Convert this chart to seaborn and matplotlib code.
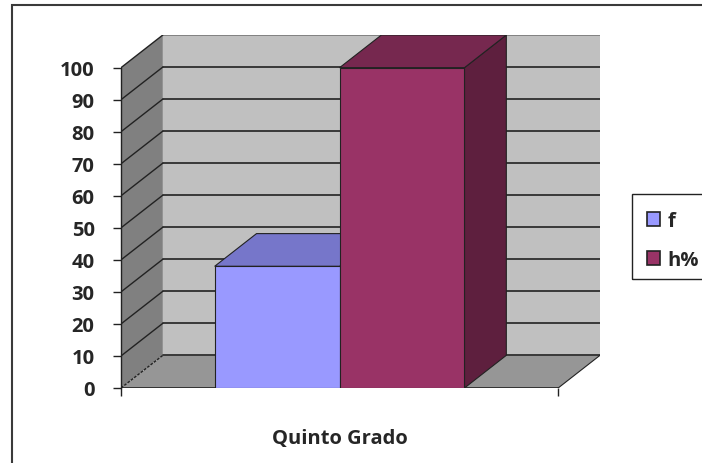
import pandas as pd
import matplotlib.pyplot as plt
import seaborn as sns
from matplotlib.patches import Polygon, Rectangle

# data
categories = ['Quinto Grado']
series = ['f', 'h%']
values = [38, 100]
yticks = list(range(0, 101, 10))

front_colors = ['#9999FF', '#993366']
top_colors = ['#7676CA', '#76284F']
side_colors = ['#7070C0', '#5E1F3E']

df = pd.DataFrame({'grado': categories * len(series), 'serie': series, 'valor': values})

sns.set_theme(style='white')
plt.rcParams['font.family'] = ['Open Sans', 'DejaVu Sans']
plt.rcParams['font.weight'] = 'bold'
fsize = 14.5

W, H = 702, 464
fig = plt.figure(figsize=(W / 100, H / 100), dpi=100)
# axes covers the front axis (x=121px) to the back wall (x=600px)
ax = fig.add_axes([121 / W, 1 - 389 / H, (600 - 121) / W, (389 - 36) / H])

sns.barplot(data=df, x='grado', y='valor', hue='serie', palette=front_colors,
            width=0.8, ax=ax, legend=False, saturation=1,
            edgecolor='#222222', linewidth=0.8, zorder=3)

# 3d depth in data units
x0, x1 = -0.7, 0.7
dx, dy = 0.134, 10.2
ax.set_xlim(x0, x1 + dx)
ax.set_ylim(0, 100 + dy)

grid_c = '#222222'
# walls and floor
ax.add_patch(Polygon([(x0 + dx, dy), (x1 + dx, dy), (x1 + dx, 100 + dy), (x0 + dx, 100 + dy)],
                     closed=True, facecolor='#C0C0C0', edgecolor='none', zorder=0.5))
ax.add_patch(Polygon([(x0, 0), (x0 + dx, dy), (x0 + dx, 100 + dy), (x0, 100)],
                     closed=True, facecolor='#808080', edgecolor='none', zorder=0.6))
ax.add_patch(Polygon([(x0, 0), (x1, 0), (x1 + dx, dy), (x0 + dx, dy)],
                     closed=True, facecolor='#969696', edgecolor='none', zorder=0.6))
for v in yticks:
    c = '#777777' if v == 100 else grid_c
    ax.plot([x0 + dx, x1 + dx], [v + dy, v + dy], color=c, lw=1.2, zorder=0.8)
    ax.plot([x0, x0 + dx], [v, v + dy], color=grid_c, lw=1.0, zorder=0.8,
            ls=(0, (2, 1)) if v == 0 else '-')
ax.plot([x0, x1], [0, 0], color=grid_c, lw=1.2, zorder=0.9)
ax.plot([x1, x1 + dx], [0, dy], color=grid_c, lw=0.8, zorder=0.9)

# top and side faces of the bars
bars = [p for p in ax.patches if p.get_zorder() == 3]
for i, bar in enumerate(bars):
    bx, bw, bh = bar.get_x(), bar.get_width(), bar.get_height()
    top = Polygon([(bx, bh), (bx + bw, bh), (bx + bw + dx, bh + dy), (bx + dx, bh + dy)],
                  closed=True, facecolor=top_colors[i], edgecolor='#222222', lw=0.8, zorder=3 + i)
    side = Polygon([(bx + bw, 0), (bx + bw + dx, dy), (bx + bw + dx, bh + dy), (bx + bw, bh)],
                   closed=True, facecolor=side_colors[i], edgecolor='#222222', lw=0.8, zorder=3 + i)
    bar.set_zorder(3.5 + i)
    ax.add_patch(side)
    ax.add_patch(top)

for s in ['top', 'right', 'bottom']:
    ax.spines[s].set_visible(False)
ax.spines['left'].set_bounds(0, 100)
ax.spines['left'].set_color('#222222')
ax.spines['left'].set_linewidth(1.0)
ax.spines['left'].set_zorder(1)

ax.set_yticks(yticks)
ax.set_yticklabels([str(v) for v in yticks], fontsize=fsize, fontweight='bold')
ax.tick_params(axis='y', direction='out', length=6, width=1, color='#222222', pad=13, left=True)
ax.set_xticks([0])
ax.set_xticklabels(categories, fontsize=fsize, fontweight='bold')
ax.set_xticks([x0, x1], minor=True)
ax.tick_params(axis='x', which='major', length=0, pad=29)
ax.tick_params(axis='x', which='minor', direction='out', length=6, width=1, color='#222222', bottom=True)
ax.set_xlabel('')
ax.set_ylabel('')
ax.patch.set_alpha(0)

# chart border and legend box
fig.patches.append(Rectangle((12 / W, -0.1), 1.2, (464 - 5.5) / H + 0.1, transform=fig.transFigure,
                             facecolor='none', edgecolor='#3a3a3a', lw=1.5))
fig.patches.append(Rectangle((632 / W, 1 - 280 / H), 0.2, 85 / H, transform=fig.transFigure,
                             facecolor='none', edgecolor='#222222', lw=1.0))
handles = [Rectangle((0, 0), 1, 1, facecolor=c, edgecolor='#222222', lw=1.2) for c in front_colors]
fig.legend(handles, series, loc='upper left', bbox_to_anchor=(634 / W, 1 - 199 / H),
           frameon=False, prop={'family': 'Open Sans', 'weight': 'bold', 'size': fsize},
           handlelength=0.65, handleheight=0.65, handletextpad=0.35, labelspacing=0.95,
           borderpad=0.15)

fig.savefig('out.png', dpi=100)
